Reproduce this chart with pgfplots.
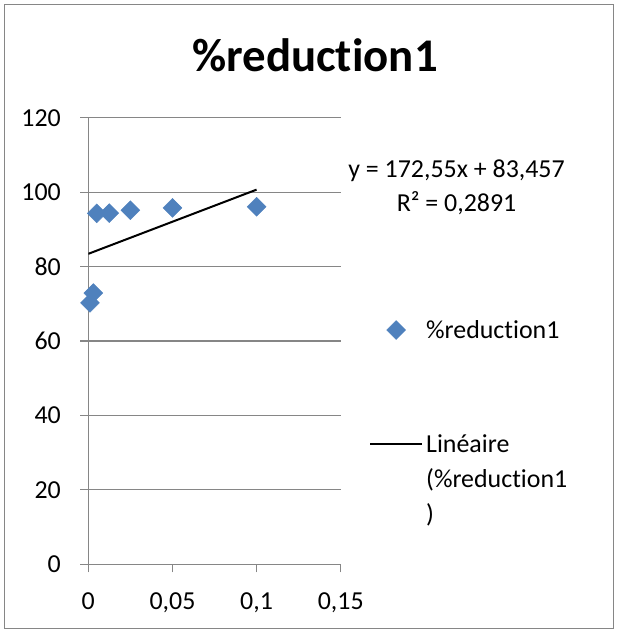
\documentclass[border=0pt]{standalone}
\usepackage{pgfplots}
\pgfplotsset{compat=1.18}
\usepackage{fontspec}
\setmainfont{Carlito}[Ligatures={NoCommon,NoRare,NoContextual}]
\definecolor{excelblue}{HTML}{4F81BD}
\definecolor{gridgray}{HTML}{868686}
\newcommand{\red}{\%reduct\kern0pt ion1}
\pgfplotsset{
  scatlegend/.style={legend image code/.code={\draw[##1] plot coordinates {(26bp,0bp)};}},
  linelegend/.style={legend image code/.code={\draw[##1] (0bp,0bp) -- (52bp,0bp);}},
}
\begin{document}
\begin{tikzpicture}[x=1bp,y=1bp]
\path[use as bounding box] (0,0) rectangle (617,632);
\draw[gridgray, line width=1bp] (4,3.5) rectangle (613,627);
\node[font=\fontsize{47}{56}\selectfont\bfseries] at (315,577) {\red};
\node[anchor=base, font=\fontsize{26}{32}\selectfont] at (456.5,454) {y = 172,55x + 83,457};
\node[anchor=base, font=\fontsize{26}{32}\selectfont] at (456.5,420.3) {R² = 0,2891};
\begin{axis}[
  at={(88.3bp,67.7bp)}, anchor=south west,
  scale only axis, width=252.4bp, height=446.4bp,
  xmin=0, xmax=0.15, ymin=0, ymax=120,
  xtick={0,0.05,0.1,0.15}, xticklabels={0,{0,05},{0,1},{0,15}},
  ytick={0,20,40,60,80,100,120},
  axis x line*=bottom, axis y line*=left,
  axis line style={gridgray, line width=1.2bp},
  tick align=outside, major tick length=8bp,
  tick style={gridgray, line width=1.2bp},
  ymajorgrids, grid style={gridgray, line width=1.2bp},
  tick label style={font=\fontsize{26}{32}\selectfont, text=black},
  yticklabel style={xshift=-16bp},
  xticklabel style={yshift=-17bp},
  /pgf/number format/assume math mode=true,
  legend style={draw=none, fill=none, inner sep=0pt, at={(rel axis cs:1.112,0.547)}, anchor=north west,
    font=\fontsize{26}{35}\selectfont, row sep=95bp, column sep=0pt,
    nodes={inner xsep=3bp, inner ysep=0pt}},
  legend cell align=left,
]
\addplot[only marks, mark=square*, mark size=6.7bp,
  mark options={rotate=45, fill=excelblue, draw=excelblue}, scatlegend]
  coordinates {
  (0.001,70.3) (0.003,72.9) (0.005,94.35) (0.0125,94.4) (0.025,95.2) (0.05,95.8) (0.1,96.1)
  };
\addlegendentry{\red}
\addplot[black, line width=2bp, no marks, linelegend]
  coordinates {(0,83.457) (0.1,100.712)};
\addlegendentry{\parbox[t]{160bp}{\raggedright Linéaire\\(\red\\)}}
\end{axis}
\end{tikzpicture}
\end{document}
